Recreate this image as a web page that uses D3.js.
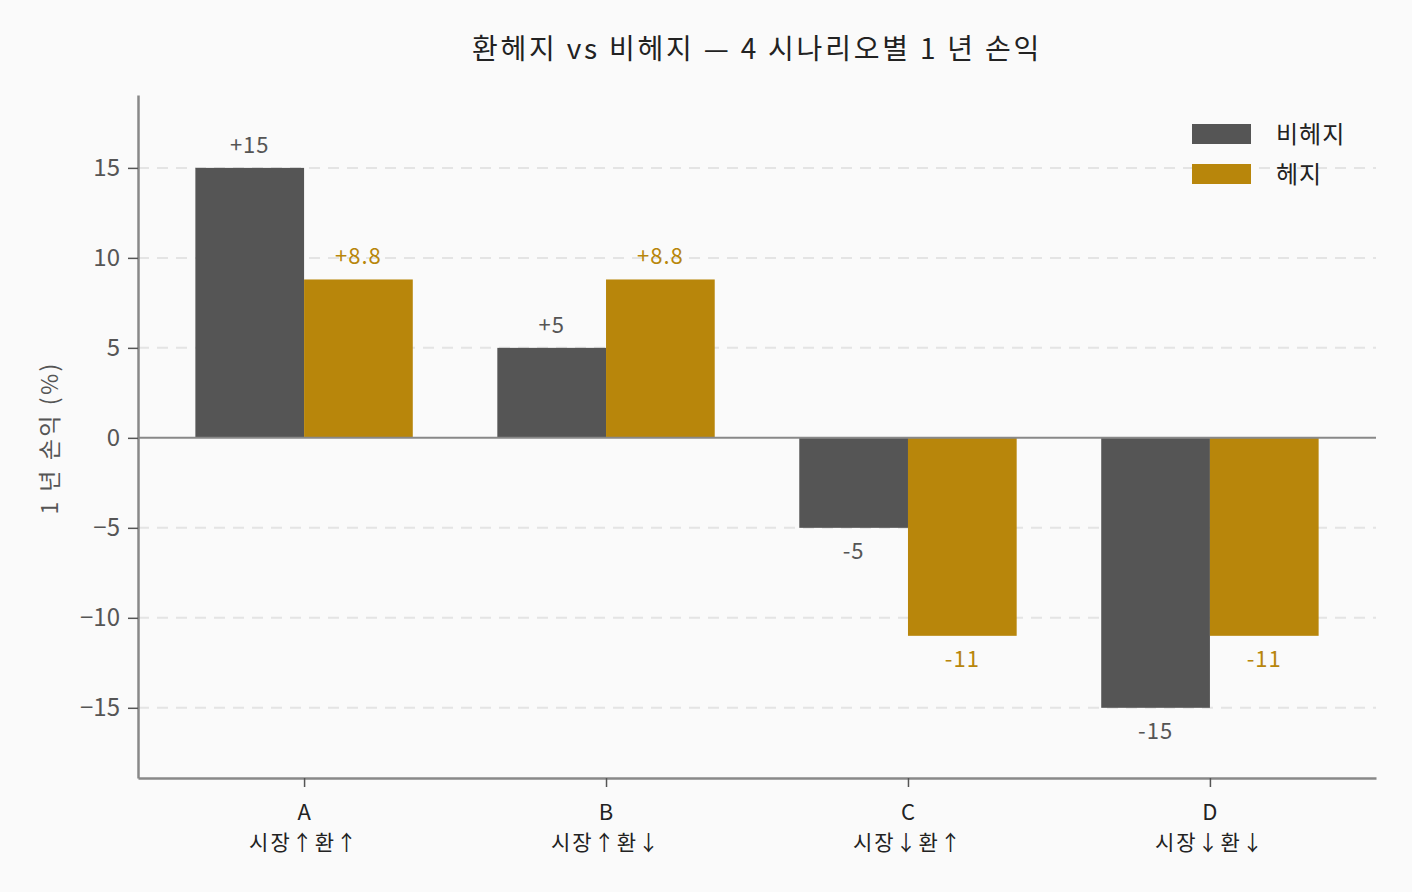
<!DOCTYPE html>
<html>
<head>
<meta charset="utf-8">
<script src="https://cdn.jsdelivr.net/npm/d3@7/dist/d3.min.js"></script>
<style>
  html, body { margin: 0; padding: 0; background: #fafafa; }
  text { font-family: "Noto Sans CJK KR", "Noto Sans", sans-serif; }
</style>
</head>
<body>
<div id="chart"></div>
<script>
// 데이터
var scenarios = ['A', 'B', 'C', 'D'];
var scenarioDesc = ['시장↑환↑', '시장↑환↓', '시장↓환↑', '시장↓환↓'];
var unhedged = [15, 5, -5, -15];
var hedged = [8.8, 8.8, -11, -11];
var seriesNames = ['비헤지', '헤지'];
var yTicks = [-15, -10, -5, 0, 5, 10, 15];

var W = 1412, H = 892;
var M = {left: 138, right: 36, top: 95, bottom: 114};
var COLORS = ['#555555', '#b8860b'];

var svg = d3.select('#chart').append('svg')
    .attr('width', W)
    .attr('height', H);

svg.append('rect').attr('width', W).attr('height', H).attr('fill', '#fafafa');

var x = d3.scaleLinear()
    .domain([-0.55, 3.55])
    .range([M.left, W - M.right]);
var y = d3.scaleLinear()
    .domain([-18.9, 19.05])
    .range([H - M.bottom, M.top]);
var barW = x(0.36) - x(0);

// 격자
svg.append('g')
    .selectAll('line')
    .data(yTicks.filter(d => d !== 0))
    .enter()
    .append('line')
    .attr('x1', M.left).attr('x2', W - M.right)
    .attr('y1', d => y(d)).attr('y2', d => y(d))
    .attr('stroke', '#e4e4e4')
    .attr('stroke-width', 2)
    .attr('stroke-dasharray', '11,8');

// 막대
var series = [unhedged, hedged];
series.forEach(function (vals, si) {
    var g = svg.append('g');
    g.selectAll('rect')
        .data(vals)
        .enter()
        .append('rect')
        .attr('x', (d, i) => si === 0 ? x(i) - barW : x(i))
        .attr('width', barW)
        .attr('y', d => Math.min(y(d), y(0)))
        .attr('height', d => Math.abs(y(d) - y(0)))
        .attr('fill', COLORS[si]);
    g.selectAll('text')
        .data(vals)
        .enter()
        .append('text')
        .attr('x', (d, i) => si === 0 ? x(i) - barW / 2 : x(i) + barW / 2)
        .attr('y', d => d >= 0 ? y(d) - 15 : y(d) + 31)
        .attr('text-anchor', 'middle')
        .attr('font-size', 22)
        .attr('letter-spacing', 1)
        .attr('fill', si === 0 ? '#555555' : '#b8860b')
        .text(d => d > 0 ? '+' + d : '' + d);
});

// 0 선
svg.append('line')
    .attr('x1', M.left).attr('x2', W - M.right)
    .attr('y1', y(0)).attr('y2', y(0))
    .attr('stroke', '#888888')
    .attr('stroke-width', 2);

// y 축
var yAxis = svg.append('g')
    .attr('transform', 'translate(' + M.left + ',0)')
    .call(d3.axisLeft(y).tickValues(yTicks).tickSizeInner(10).tickSizeOuter(0).tickPadding(8)
        .tickFormat(d => d < 0 ? '−' + Math.abs(d) : d));
yAxis.select('.domain').attr('stroke', '#888888').attr('stroke-width', 2.5);
yAxis.selectAll('.tick line').attr('stroke', '#555555').attr('stroke-width', 1.5);
yAxis.selectAll('.tick text')
    .attr('font-size', 24)
    .attr('fill', '#555555')
    .style('font-family', '"Noto Sans CJK KR", sans-serif');

// x 축
var xAxis = svg.append('g')
    .attr('transform', 'translate(0,' + (H - M.bottom) + ')')
    .call(d3.axisBottom(x).tickValues([0, 1, 2, 3]).tickSizeInner(9).tickSizeOuter(0).tickFormat(''));
xAxis.select('.domain').attr('stroke', '#888888').attr('stroke-width', 2.5);
xAxis.selectAll('.tick line').attr('stroke', '#555555').attr('stroke-width', 1.5);

// x 축 라벨 (두 줄)
var xlab = svg.append('g');
xlab.selectAll('text.cat')
    .data(scenarios)
    .enter()
    .append('text')
    .attr('class', 'cat')
    .attr('x', (d, i) => x(i))
    .attr('y', H - M.bottom + 42)
    .attr('text-anchor', 'middle')
    .attr('font-size', 22)
    .attr('fill', '#222222')
    .text(d => d);
xlab.selectAll('text.desc')
    .data(scenarioDesc)
    .enter()
    .append('text')
    .attr('class', 'desc')
    .attr('x', (d, i) => x(i))
    .attr('y', H - M.bottom + 72)
    .attr('text-anchor', 'middle')
    .attr('font-size', 21)
    .attr('letter-spacing', 2)
    .attr('fill', '#222222')
    .text(d => d);

// y 축 라벨
svg.append('text')
    .attr('transform', 'translate(58,' + y(0) + ') rotate(-90)')
    .attr('text-anchor', 'middle')
    .attr('font-size', 23)
    .attr('letter-spacing', 2.5)
    .attr('fill', '#555555')
    .text('1 년 손익 (%)');

// 제목
svg.append('text')
    .attr('x', 757)
    .attr('y', 59)
    .attr('text-anchor', 'middle')
    .attr('font-size', 28)
    .attr('letter-spacing', 2.8)
    .attr('fill', '#222222')
    .text('환헤지 vs 비헤지 — 4 시나리오별 1 년 손익');

// 범례
var legend = svg.append('g').attr('transform', 'translate(1192,124)');
seriesNames.forEach(function (name, i) {
    legend.append('rect')
        .attr('x', 0).attr('y', i * 40)
        .attr('width', 59).attr('height', 20)
        .attr('fill', COLORS[i]);
    legend.append('text')
        .attr('x', 84).attr('y', i * 40 + 19)
        .attr('font-size', 24)
        .attr('letter-spacing', 1)
        .attr('fill', '#222222')
        .text(name);
});
</script>
</body>
</html>
